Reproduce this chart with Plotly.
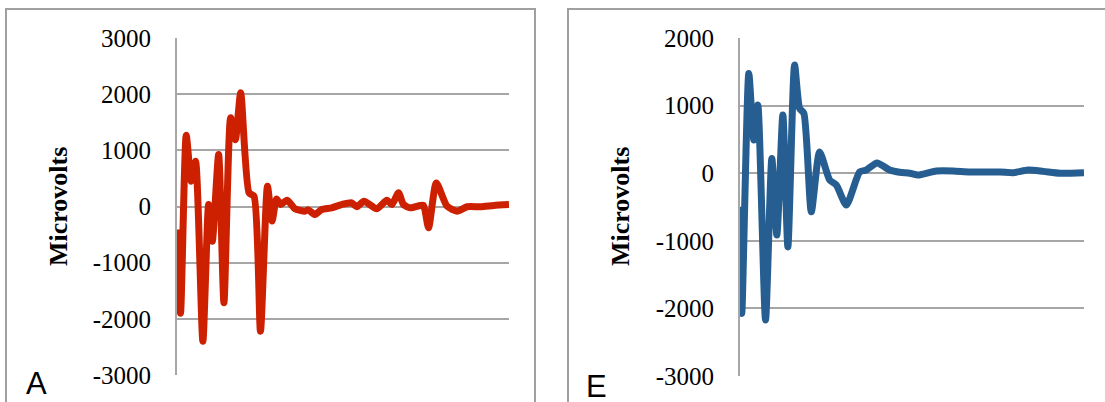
import plotly.graph_objects as go

W, H = 1105, 402

# ---- data (time in % of sweep, values in microvolts) ----
t_a = [0, 1.06, 2.78, 4.29, 5.59, 7.79, 9.52, 10.63, 12.54, 14.14, 16.16, 17.58, 19.18,
       21.69, 23.2, 25.14, 27.25, 28.64, 29.97, 31.27, 33.17, 35.5, 38.52, 39.52, 41.54,
       43.56, 46.59, 49.61, 52.63, 54.14, 56.34, 60.18, 63.2, 64.71, 66.71, 68.22, 70.24,
       73.26, 74.26, 75.77, 78.1, 81.33, 84.35, 87.37, 91.39, 95.41, 100]
v_a = [-410, -1900, 1270, 450, 806, -2400, 35, -620, 925, -1715, 1580, 1190, 2025,
       243, 183, -2220, 360, -260, 135, 35, 112, -40, -83, -60, -142,
       -53, -24, 35, 66, -5, 94, -41, 112, 35, 243, 35, -24,
       18, 18, -380, 420, 6, -83, -5, -5, 18, 35]

t_e = [0, 0.52, 2.56, 4.02, 5.18, 7.42, 9.26, 10.71, 12.46, 13.92, 15.87, 17.32, 18.57,
       20.73, 23.14, 26.06, 28.0, 30.92, 34.79, 36.74, 39.83, 43.52, 46.43, 49.34, 51.76,
       57.12, 61.95, 66.81, 75.55, 79.42, 83.78, 88.15, 93.01, 100]
v_e = [-496, -2075, 1476, 491, 1009, -2172, 217, -914, 861, -1090, 1600, 960, 886,
       -572, 315, -100, -175, -470, 19, 47, 152, 47, 13, 0, -27,
       34, 34, 19, 19, 7, 47, 27, 0, 7]

ticks_a = [-3000, -2000, -1000, 0, 1000, 2000, 3000]
ticks_e = [-3000, -2000, -1000, 0, 1000, 2000]
ticktext_a = [str(v) for v in ticks_a]
ticktext_e = [str(v) for v in ticks_e]

RED = "#cd2000"
BLUE = "#265e91"
GRID = "#a6a6a6"
BORDER = "#a0a0a0"

def px_x(p):
    return p / W

def px_y(p):
    return 1 - p / H

fig = go.Figure()
fig.add_trace(go.Scatter(x=t_a, y=v_a, mode="lines", xaxis="x", yaxis="y",
                         line=dict(color=RED, width=7, shape="spline", smoothing=0.6),
                         showlegend=False))
fig.add_trace(go.Scatter(x=t_e, y=v_e, mode="lines", xaxis="x2", yaxis="y2",
                         line=dict(color=BLUE, width=7, shape="spline", smoothing=0.6),
                         showlegend=False))

tickfont = dict(family="Liberation Serif", size=25, color="black")

xcommon = dict(range=[0, 100], showgrid=False, zeroline=False, showticklabels=False,
               showline=False, ticks="", fixedrange=True)
ycommon = dict(showgrid=True, gridcolor=GRID, gridwidth=2, zeroline=False,
               showline=True, linecolor=GRID, linewidth=2, ticks="",
               tickfont=tickfont, ticklabelstandoff=19, automargin=False)

fig.update_layout(
    width=W, height=H, margin=dict(l=0, r=0, t=0, b=0),
    paper_bgcolor="white", plot_bgcolor="white",
    xaxis=dict(domain=[px_x(177), px_x(509)], anchor="y", **xcommon),
    yaxis=dict(domain=[px_y(375), px_y(38)], anchor="x", range=[-3000, 3000],
               tickvals=ticks_a, ticktext=ticktext_a, **ycommon),
    xaxis2=dict(domain=[px_x(740), px_x(1084)], anchor="y2", **xcommon),
    yaxis2=dict(domain=[px_y(376), px_y(38)], anchor="x2", range=[-3000, 2000],
                tickvals=ticks_e, ticktext=ticktext_e, **ycommon),
    shapes=[
        dict(type="rect", xref="paper", yref="paper", x0=px_x(6), x1=px_x(535),
             y0=px_y(420), y1=px_y(9), line=dict(color=BORDER, width=2)),
        dict(type="rect", xref="paper", yref="paper", x0=px_x(568), x1=px_x(1120),
             y0=px_y(420), y1=px_y(9), line=dict(color=BORDER, width=2)),
    ],
    annotations=[
        dict(text="<b>Microvolts</b>", x=px_x(58), y=px_y(207), xref="paper", yref="paper",
             textangle=-90, showarrow=False, xanchor="center", yanchor="middle",
             font=dict(family="Liberation Serif", size=26, color="black")),
        dict(text="<b>Microvolts</b>", x=px_x(620), y=px_y(207), xref="paper", yref="paper",
             textangle=-90, showarrow=False, xanchor="center", yanchor="middle",
             font=dict(family="Liberation Sans", size=0.1, color="rgba(0,0,0,0)")) if False else
        dict(text="<b>Microvolts</b>", x=px_x(620), y=px_y(207), xref="paper", yref="paper",
             textangle=-90, showarrow=False, xanchor="center", yanchor="middle",
             font=dict(family="Liberation Serif", size=26, color="black")),
        dict(text="A", x=px_x(24), y=px_y(364), xref="paper", yref="paper",
             showarrow=False, xanchor="left", yanchor="top",
             font=dict(family="Liberation Sans", size=31, color="black")),
        dict(text="E", x=px_x(584), y=px_y(367), xref="paper", yref="paper",
             showarrow=False, xanchor="left", yanchor="top",
             font=dict(family="Liberation Sans", size=31, color="black")),
    ],
)

fig.write_html("out.html", config={"displayModeBar": False},
               post_script="document.body.style.margin='0';document.body.style.overflow='hidden';")
